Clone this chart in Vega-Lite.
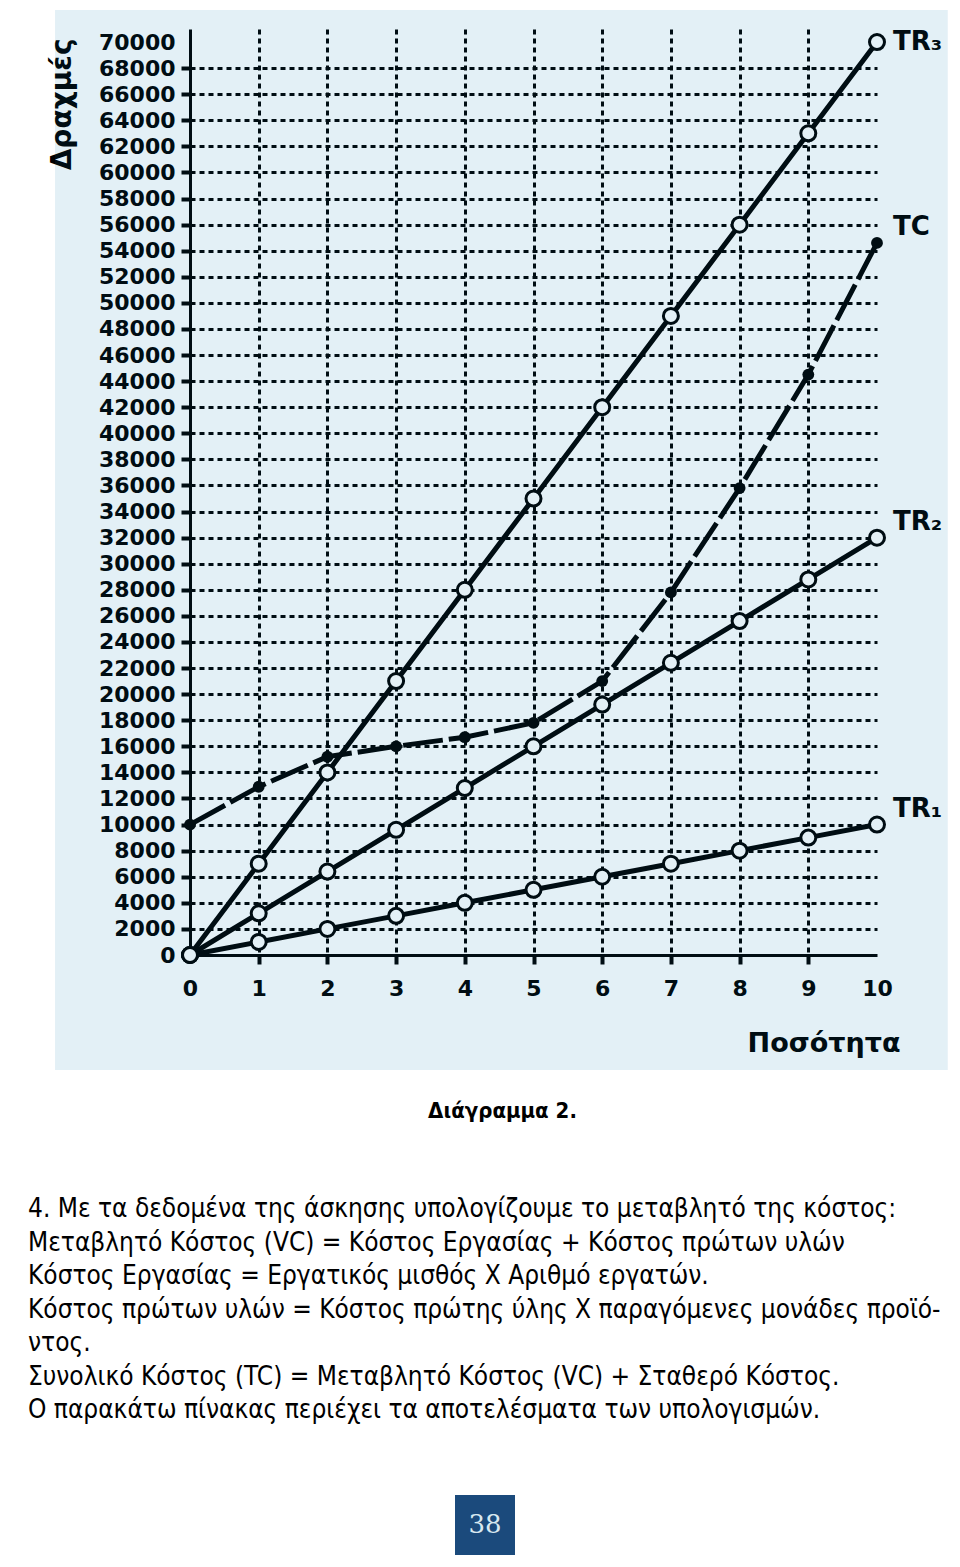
{
  "$schema": "https://vega.github.io/schema/vega-lite/v6.json",
  "background": "white",
  "padding": {"left": 28, "top": 10, "right": 0, "bottom": 0},
  "bounds": "flush",
  "spacing": 540,
  "config": {"view": {"stroke": null}, "font": "DejaVu Sans", "axis": {"labelOverlap": false}},
  "datasets": {
    "lines": [
      {"q": 0, "v": 0, "s": "TR₃"}, {"q": 1, "v": 7000, "s": "TR₃"}, {"q": 2, "v": 14000, "s": "TR₃"}, {"q": 3, "v": 21000, "s": "TR₃"}, {"q": 4, "v": 28000, "s": "TR₃"}, {"q": 5, "v": 35000, "s": "TR₃"}, {"q": 6, "v": 42000, "s": "TR₃"}, {"q": 7, "v": 49000, "s": "TR₃"}, {"q": 8, "v": 56000, "s": "TR₃"}, {"q": 9, "v": 63000, "s": "TR₃"}, {"q": 10, "v": 70000, "s": "TR₃"},
      {"q": 0, "v": 0, "s": "TR₂"}, {"q": 1, "v": 3200, "s": "TR₂"}, {"q": 2, "v": 6400, "s": "TR₂"}, {"q": 3, "v": 9600, "s": "TR₂"}, {"q": 4, "v": 12800, "s": "TR₂"}, {"q": 5, "v": 16000, "s": "TR₂"}, {"q": 6, "v": 19200, "s": "TR₂"}, {"q": 7, "v": 22400, "s": "TR₂"}, {"q": 8, "v": 25600, "s": "TR₂"}, {"q": 9, "v": 28800, "s": "TR₂"}, {"q": 10, "v": 32000, "s": "TR₂"},
      {"q": 0, "v": 0, "s": "TR₁"}, {"q": 1, "v": 1000, "s": "TR₁"}, {"q": 2, "v": 2000, "s": "TR₁"}, {"q": 3, "v": 3000, "s": "TR₁"}, {"q": 4, "v": 4000, "s": "TR₁"}, {"q": 5, "v": 5000, "s": "TR₁"}, {"q": 6, "v": 6000, "s": "TR₁"}, {"q": 7, "v": 7000, "s": "TR₁"}, {"q": 8, "v": 8000, "s": "TR₁"}, {"q": 9, "v": 9000, "s": "TR₁"}, {"q": 10, "v": 10000, "s": "TR₁"},
      {"q": 0, "v": 10000, "s": "TC"}, {"q": 1, "v": 12900, "s": "TC"}, {"q": 2, "v": 15200, "s": "TC"}, {"q": 3, "v": 16000, "s": "TC"}, {"q": 4, "v": 16700, "s": "TC"}, {"q": 5, "v": 17800, "s": "TC"}, {"q": 6, "v": 21000, "s": "TC"}, {"q": 7, "v": 27800, "s": "TC"}, {"q": 8, "v": 35800, "s": "TC"}, {"q": 9, "v": 44500, "s": "TC"}, {"q": 10, "v": 54600, "s": "TC"}
    ]
  },
  "vconcat": [
    {
      "width": 687,
      "height": 926,
      "title": {"text": "Διάγραμμα 2.", "orient": "bottom", "anchor": "middle", "dx": -31, "offset": 31, "font": "DejaVu Sans Condensed", "fontSize": 22, "fontWeight": "bold", "color": "black"},
      "layer": [
        {
          "data": {"name": "lines"},
          "encoding": {
            "x": {
              "field": "q", "type": "quantitative",
              "scale": {"domain": [0, 10], "nice": false},
              "axis": {
                "values": [0, 1, 2, 3, 4, 5, 6, 7, 8, 9, 10],
                "format": "d",
                "title": "Ποσότητα",
                "titleFont": "DejaVu Sans", "titleFontSize": 27, "titleFontWeight": "bold", "titleColor": "black",
                "titleAlign": "right", "titleBaseline": "middle", "titleX": 710, "titleY": 88,
                "labelFont": "DejaVu Sans", "labelFontSize": 22, "labelFontWeight": "bold", "labelColor": "black",
                "labelPadding": 14, "labelFlush": false, "labelOverlap": false,
                "tickSize": 9, "tickWidth": 4, "tickColor": "black",
                "tickOpacity": {"condition": {"test": "datum.value == 0 || datum.value == 10", "value": 0}, "value": 1},
                "domainColor": "black", "domainWidth": 3,
                "grid": true, "gridColor": "black", "gridWidth": 3, "gridDash": [5, 4],
                "gridOpacity": {"condition": {"test": "datum.value == 0 || datum.value == 10", "value": 0}, "value": 1}
              }
            },
            "y": {
              "field": "v", "type": "quantitative",
              "scale": {"domain": [0, 71000], "nice": false},
              "axis": {
                "values": [0, 2000, 4000, 6000, 8000, 10000, 12000, 14000, 16000, 18000, 20000, 22000, 24000, 26000, 28000, 30000, 32000, 34000, 36000, 38000, 40000, 42000, 44000, 46000, 48000, 50000, 52000, 54000, 56000, 58000, 60000, 62000, 64000, 66000, 68000, 70000],
                "format": "d",
                "title": "Δραχμές",
                "titleFont": "DejaVu Sans", "titleFontSize": 28, "titleFontWeight": "bold", "titleColor": "black",
                "titleAngle": -90, "titleAlign": "right", "titleBaseline": "middle", "titleX": -128, "titleY": 9,
                "labelFont": "DejaVu Sans", "labelFontSize": 22, "labelFontWeight": "bold", "labelColor": "black",
                "labelPadding": 6, "labelOverlap": false, "labelFlush": false,
                "tickSize": 9, "tickWidth": 4, "tickColor": "black",
                "tickOpacity": {"condition": {"test": "datum.value >= 70000", "value": 0}, "value": 1},
                "domainColor": "black", "domainWidth": 3,
                "grid": true, "gridColor": "black", "gridWidth": 3, "gridDash": [5, 4],
                "gridOpacity": {"condition": {"test": "datum.value == 0 || datum.value >= 70000", "value": 0}, "value": 1}
              }
            }
          },
          "layer": [
            {
              "transform": [{"filter": "datum.s !== 'TC'"}],
              "mark": {"type": "line", "color": "black", "strokeWidth": 5},
              "encoding": {"detail": {"field": "s"}}
            },
            {
              "transform": [{"filter": "datum.s === 'TC'"}],
              "mark": {"type": "line", "color": "black", "strokeWidth": 5, "strokeDash": [40, 6]},
              "encoding": {"detail": {"field": "s"}}
            },
            {
              "transform": [{"filter": "datum.s !== 'TC'"}],
              "mark": {"type": "circle", "size": 225, "fill": "white", "stroke": "black", "strokeWidth": 3, "opacity": 1, "fillOpacity": 1}
            },
            {
              "transform": [{"filter": "datum.s === 'TC'"}],
              "mark": {"type": "circle", "size": 140, "color": "black", "opacity": 1}
            },
            {
              "transform": [{"filter": "datum.q == 10 && datum.s === 'TR₃'"}],
              "mark": {"type": "text", "align": "left", "baseline": "middle", "dx": 16, "dy": 0, "font": "DejaVu Sans", "fontSize": 26, "fontWeight": "bold", "color": "black"},
              "encoding": {"text": {"field": "s"}}
            },
            {
              "transform": [{"filter": "datum.q == 10 && datum.s !== 'TR₃'"}],
              "mark": {"type": "text", "align": "left", "baseline": "middle", "dx": 16, "dy": -16, "font": "DejaVu Sans", "fontSize": 26, "fontWeight": "bold", "color": "black"},
              "encoding": {"text": {"field": "s"}}
            }
          ]
        },
        {
          "data": {"values": [{"panel": "background"}]},
          "mark": {"type": "rect", "fill": "#0076ad", "fillOpacity": 0.11, "strokeWidth": 0, "clip": false},
          "encoding": {
            "x": {
              "datum": -1.965, "type": "quantitative",
              "scale": {"domain": [0, 10], "nice": false},
              "axis": {
                "values": [0, 1, 2, 3, 4, 5, 6, 7, 8, 9, 10],
                "format": "d",
                "title": "Ποσότητα",
                "titleFont": "DejaVu Sans", "titleFontSize": 27, "titleFontWeight": "bold", "titleColor": "black",
                "titleAlign": "right", "titleBaseline": "middle", "titleX": 710, "titleY": 88,
                "labelFont": "DejaVu Sans", "labelFontSize": 22, "labelFontWeight": "bold", "labelColor": "black",
                "labelPadding": 14, "labelFlush": false, "labelOverlap": false,
                "tickSize": 9, "tickWidth": 4, "tickColor": "black",
                "tickOpacity": {"condition": {"test": "datum.value == 0 || datum.value == 10", "value": 0}, "value": 1},
                "domainColor": "black", "domainWidth": 3,
                "grid": true, "gridColor": "black", "gridWidth": 3, "gridDash": [5, 4],
                "gridOpacity": {"condition": {"test": "datum.value == 0 || datum.value == 10", "value": 0}, "value": 1}
              }
            },
            "x2": {"datum": 11.03},
            "y": {
              "datum": -8817, "type": "quantitative",
              "scale": {"domain": [0, 71000], "nice": false},
              "axis": {
                "values": [0, 2000, 4000, 6000, 8000, 10000, 12000, 14000, 16000, 18000, 20000, 22000, 24000, 26000, 28000, 30000, 32000, 34000, 36000, 38000, 40000, 42000, 44000, 46000, 48000, 50000, 52000, 54000, 56000, 58000, 60000, 62000, 64000, 66000, 68000, 70000],
                "format": "d",
                "title": "Δραχμές",
                "titleFont": "DejaVu Sans", "titleFontSize": 28, "titleFontWeight": "bold", "titleColor": "black",
                "titleAngle": -90, "titleAlign": "right", "titleBaseline": "middle", "titleX": -128, "titleY": 9,
                "labelFont": "DejaVu Sans", "labelFontSize": 22, "labelFontWeight": "bold", "labelColor": "black",
                "labelPadding": 6, "labelOverlap": false, "labelFlush": false,
                "tickSize": 9, "tickWidth": 4, "tickColor": "black",
                "tickOpacity": {"condition": {"test": "datum.value >= 70000", "value": 0}, "value": 1},
                "domainColor": "black", "domainWidth": 3,
                "grid": true, "gridColor": "black", "gridWidth": 3, "gridDash": [5, 4],
                "gridOpacity": {"condition": {"test": "datum.value == 0 || datum.value >= 70000", "value": 0}, "value": 1}
              }
            },
            "y2": {"datum": 72456}
          }
        }
      ]
    },
    {
      "width": 590,
      "height": 60,
      "data": {"values": [{"page": "38"}]},
      "title": {
        "text": [
          "4. Με τα δεδομένα της άσκησης υπολογίζουμε το μεταβλητό της κόστος:",
          "Μεταβλητό Κόστος (VC) = Κόστος Εργασίας + Κόστος πρώτων υλών",
          "Κόστος Εργασίας = Εργατικός μισθός Χ Αριθμό εργατών.",
          "Κόστος πρώτων υλών = Κόστος πρώτης ύλης Χ παραγόμενες μονάδες προϊό-",
          "ντος.",
          "Συνολικό Κόστος (TC) = Μεταβλητό Κόστος (VC) + Σταθερό Κόστος.",
          "Ο παρακάτω πίνακας περιέχει τα αποτελέσματα των υπολογισμών."
        ],
        "orient": "top", "anchor": "start", "frame": "group", "align": "left",
        "dx": -162, "offset": 72,
        "font": "DejaVu Sans Condensed", "fontSize": 26, "fontWeight": "normal", "color": "black", "lineHeight": 33.5
      },
      "layer": [
        {"mark": {"type": "square", "size": 3600, "color": "#1b4a7c", "opacity": 1}, "encoding": {}},
        {"mark": {"type": "text", "font": "DejaVu Serif", "fontSize": 26, "color": "#d8e8f0", "baseline": "middle", "align": "center"}, "encoding": {"text": {"field": "page"}}}
      ]
    }
  ]
}
